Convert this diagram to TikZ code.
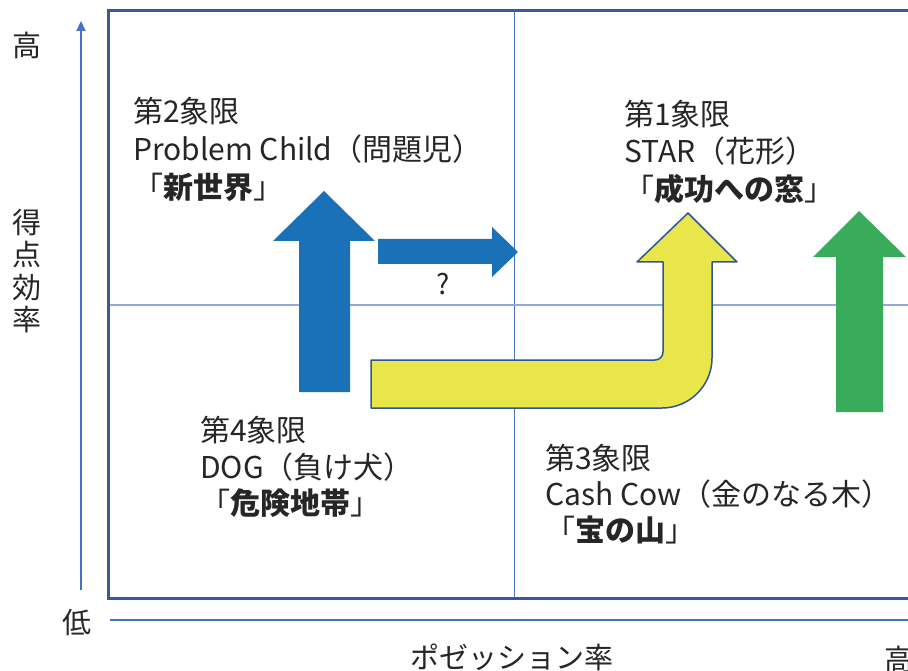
\documentclass[tikz,border=0pt]{standalone}
\usepackage{fontspec}
\setmainfont{Noto Sans CJK JP}
\usetikzlibrary{arrows.meta}
\definecolor{frameblue}{HTML}{3A5A96}
\definecolor{midblue}{HTML}{4472C4}
\definecolor{midlight}{HTML}{8FAADC}
\definecolor{axisblue}{HTML}{4472C4}
\definecolor{arrowblue}{RGB}{27,113,184}
\definecolor{arrowyellow}{RGB}{232,230,74}
\definecolor{arrowgreen}{RGB}{56,172,90}
\definecolor{edgeblue}{HTML}{2F5597}
\definecolor{textgray}{HTML}{262626}
\begin{document}
\begin{tikzpicture}[x=1pt,y=-1pt,
  txt/.style={anchor=west,inner sep=0pt,font=\fontsize{30}{32}\selectfont,text=textgray,text height=26pt,text depth=4pt},
  axlabel/.style={inner sep=0pt,font=\fontsize{29}{32.5}\selectfont,text=textgray,align=center},
  axisline/.style={draw=axisblue,line width=2pt},
  shapeblue/.style={fill=arrowblue},
  shapeyellow/.style={fill=arrowyellow,draw=edgeblue,line width=1.5pt,line join=round},
  shapegreen/.style={fill=arrowgreen}]
\useasboundingbox (0,0) rectangle (908,671);
\clip (0,0) rectangle (908,671);
\fill[white] (0,0) rectangle (908,671);
% quadrant lines
\draw[midblue,line width=1pt] (514,11) -- (514,598);
\draw[midlight,line width=1.5pt] (108,305) -- (930,305);
% frame
\draw[frameblue,line width=3pt] (930,11) -- (108,11) -- (108,598) -- (930,598);
% axes
\coordinate (ybot) at (81,590);
\coordinate (ytop) at (81,21);
\draw[axisline,-{Triangle[width=9pt,length=10pt]}] (ybot) -- (ytop);
\coordinate (xleft) at (110,620);
\coordinate (xright) at (925,620);
\draw[axisline,-{Triangle[width=9pt,length=10pt]}] (xleft) -- (xright);
% arrows
\fill[shapeblue] (299,392) -- (299,241) -- (273,241) -- (324,191) -- (375,241) -- (350,241) -- (350,392) -- cycle;
\fill[shapeblue] (378,239) -- (492,239) -- (492,227) -- (518,252) -- (492,277) -- (492,264) -- (378,264) -- cycle;
\filldraw[shapeyellow] (371,360) -- (655,360) .. controls (659.4,360) and (663,356.4) .. (663,352) -- (663,262) -- (637,262) -- (688,213) -- (737,262) -- (712,262) -- (712,358) .. controls (712,385.6) and (689.6,408) .. (662,408) -- (371,408) -- cycle;
\fill[shapegreen] (836,412) -- (836,257) -- (813,257) -- (859,211) -- (906,257) -- (883,257) -- (883,412) -- cycle;
\node[inner sep=0pt,font=\fontsize{28}{30}\selectfont,text=textgray] (q) at (443,284) {?};
% quadrant texts
\node[txt] (q2a) at (133,112) {第2象限};
\node[txt] (q2b) at (133,150) {Problem Child（問題児）};
\node[txt] (q2c) at (133,188) {「\textbf{新世界}」};
\node[txt] (q1a) at (624,115) {第1象限};
\node[txt] (q1b) at (624,152) {STAR（花形）};
\node[txt] (q1c) at (624,190) {「\textbf{成功への窓}」};
\node[txt] (q4a) at (200,430) {第4象限};
\node[txt] (q4b) at (200,467) {DOG（負け犬）};
\node[txt] (q4c) at (200,503) {「\textbf{危険地帯}」};
\node[txt] (q3a) at (545,458) {第3象限};
\node[txt] (q3b) at (545,494) {Cash Cow（金のなる木）};
\node[txt] (q3c) at (545,530) {「\textbf{宝の山}」};
% axis labels
\node[axlabel] (yhigh) at (27,45) {高};
\node[axlabel] (yname) at (27,271) {得\\点\\効\\率};
\node[axlabel] (ylow) at (77,623) {低};
\node[axlabel] (xname) at (512,657) {ポゼッション率};
\node[axlabel] (xhigh) at (899,659) {高};
\end{tikzpicture}
\end{document}
